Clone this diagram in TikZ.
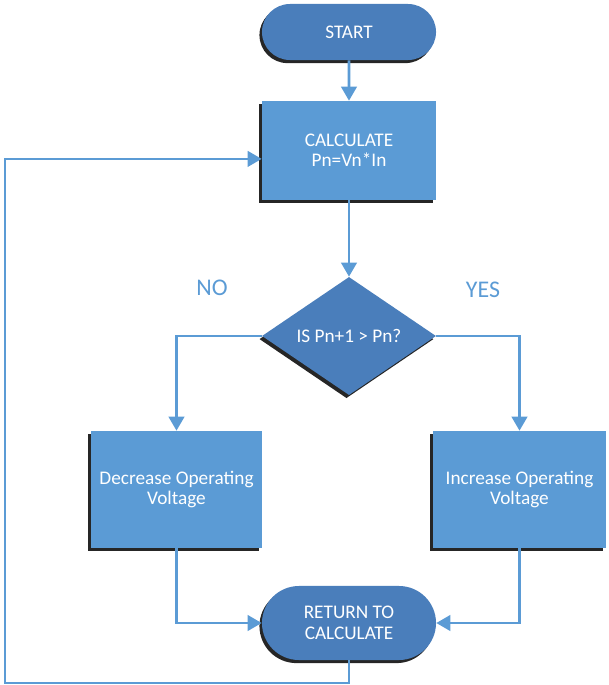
\documentclass[tikz,border=0pt]{standalone}
\usepackage{fontspec}
\setmainfont{Carlito}
\usepackage{xcolor}
\usepackage{tikz}
\usetikzlibrary{shapes,shapes.geometric,shapes.misc,arrows.meta,positioning,calc,shadows}
\definecolor{boxblue}{HTML}{5B9BD5}
\definecolor{termblue}{HTML}{4A7EBB}
\definecolor{lineblue}{HTML}{5B9BD5}

\begin{document}
\begin{tikzpicture}[x=0.025cm, y=-0.025cm,
        every node/.style={font=\fontsize{13.7}{14.5}\selectfont, text=white, align=center},
        shade/.style={drop shadow={shadow xshift=-1.8pt, shadow yshift=-2.2pt, fill=black, opacity=0.85}},
        termbox/.style={rounded rectangle, fill=termblue, shade, minimum width=4.35cm, inner sep=0pt},
        procbox/.style={rectangle, fill=boxblue, shade, inner sep=0pt},
        testbox/.style={diamond, fill=termblue, shade, minimum width=4.35cm, minimum height=2.95cm, inner sep=0pt},
        flow/.style={lineblue, line width=2pt, -{Triangle[width=11pt,length=10pt]}},
        answer/.style={text=lineblue, font=\fontsize{17}{20}\selectfont}]
    \useasboundingbox (0,0) rectangle (608,685);

    \node[termbox, minimum height=1.4cm] (start) at (349,32) {START};
    \node[procbox, minimum width=4.35cm, minimum height=2.475cm] (calc) at (349,150.5) {CALCULATE\\Pn=Vn*In};
    \node[testbox] (test) at (349,336) {IS Pn+1 > Pn?};
    \node[procbox, minimum width=4.275cm, minimum height=2.925cm] (down) at (176.5,489.5) {Decrease Operating\\Voltage};
    \node[procbox, minimum width=4.325cm, minimum height=2.925cm] (up) at (519.5,489.5) {Increase Operating\\Voltage};
    \node[termbox, minimum height=1.85cm] (ret) at (349,623) {RETURN TO\\CALCULATE};

    \node[answer] (no) at (212,288) {NO};
    \node[answer] (yes) at (483,290) {YES};

    \coordinate (loop) at (5,683);

    \draw[flow] (start) -- (calc);
    \draw[flow] (calc) -- (test);
    \draw[flow] (test.west) -| (down.north);
    \draw[flow] (test.east) -| (up.north);
    \draw[flow] (down.south) |- (ret.west);
    \draw[flow] (up.south) |- (ret.east);
    \draw[flow] (ret.south) |- (loop) |- ([yshift=-0.21cm]calc.west); % back to the top
\end{tikzpicture}
\end{document}
